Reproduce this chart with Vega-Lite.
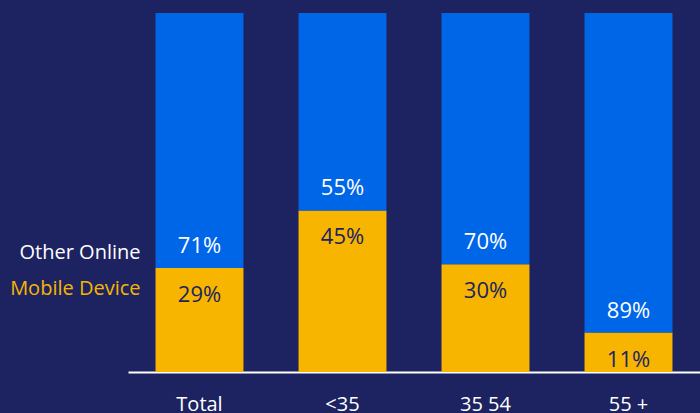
{
  "$schema": "https://vega.github.io/schema/vega-lite/v6.json",
  "width": 572,
  "height": 359,
  "autosize": {"type": "none"},
  "padding": {"left": 128, "top": 13, "right": 0, "bottom": 41},
  "background": "#1d2361",
  "config": {"view": {"stroke": null}, "font": "Open Sans"},
  "data": {
    "values": [
      {"group": "Total", "segment": "Mobile Device", "value": 29, "order": 1, "mobile": 29},
      {"group": "Total", "segment": "Other Online", "value": 71, "order": 2, "mobile": 29},
      {"group": "<35", "segment": "Mobile Device", "value": 45, "order": 1, "mobile": 45},
      {"group": "<35", "segment": "Other Online", "value": 55, "order": 2, "mobile": 45},
      {"group": "35  54", "segment": "Mobile Device", "value": 30, "order": 1, "mobile": 30},
      {"group": "35  54", "segment": "Other Online", "value": 70, "order": 2, "mobile": 30},
      {"group": "55 +", "segment": "Mobile Device", "value": 11, "order": 1, "mobile": 11},
      {"group": "55 +", "segment": "Other Online", "value": 89, "order": 2, "mobile": 11}
    ]
  },
  "encoding": {
    "x": {
      "field": "group",
      "type": "nominal",
      "sort": ["Total", "<35", "35  54", "55 +"],
      "scale": {"paddingInner": 0.385, "paddingOuter": 0.1925},
      "axis": {
        "title": null,
        "labelAngle": 0,
        "domainColor": "#ffffff",
        "domainWidth": 2,
        "ticks": false,
        "labelColor": "#ffffff",
        "labelFontSize": 20,
        "labelPadding": 22,
        "labelFont": "Open Sans"
      }
    }
  },
  "layer": [
    {
      "mark": {"type": "bar"},
      "encoding": {
        "y": {"field": "value", "type": "quantitative", "stack": "zero", "scale": {"domain": [0, 100]}, "axis": null},
        "color": {
          "field": "segment",
          "type": "nominal",
          "scale": {"domain": ["Mobile Device", "Other Online"], "range": ["#F7B500", "#0066E8"]},
          "legend": null
        },
        "order": {"field": "order", "type": "quantitative"}
      }
    },
    {
      "transform": [{"filter": "datum.segment == 'Other Online'"}, {"calculate": "datum.value + '%'", "as": "lbl"}],
      "mark": {"type": "text", "dy": -22, "fontSize": 22, "color": "#ffffff", "baseline": "middle"},
      "encoding": {
        "y": {"field": "mobile", "type": "quantitative"},
        "text": {"field": "lbl", "type": "nominal"}
      }
    },
    {
      "transform": [{"filter": "datum.segment == 'Mobile Device'"}, {"calculate": "datum.value + '%'", "as": "lbl"}],
      "mark": {"type": "text", "dy": 27, "fontSize": 22, "color": "#1d2361", "baseline": "middle"},
      "encoding": {
        "y": {"field": "mobile", "type": "quantitative"},
        "text": {"field": "lbl", "type": "nominal"}
      }
    },
    {
      "transform": [{"filter": "datum.group == 'Total' && datum.segment == 'Other Online'"}],
      "mark": {"type": "text", "dx": -59, "dy": -15, "fontSize": 20, "color": "#ffffff", "align": "right", "baseline": "middle"},
      "encoding": {
        "y": {"field": "mobile", "type": "quantitative"},
        "text": {"field": "segment", "type": "nominal"}
      }
    },
    {
      "transform": [{"filter": "datum.group == 'Total' && datum.segment == 'Mobile Device'"}],
      "mark": {"type": "text", "dx": -59, "dy": 21, "fontSize": 20, "color": "#F7B500", "align": "right", "baseline": "middle"},
      "encoding": {
        "y": {"field": "mobile", "type": "quantitative"},
        "text": {"field": "segment", "type": "nominal"}
      }
    }
  ]
}
